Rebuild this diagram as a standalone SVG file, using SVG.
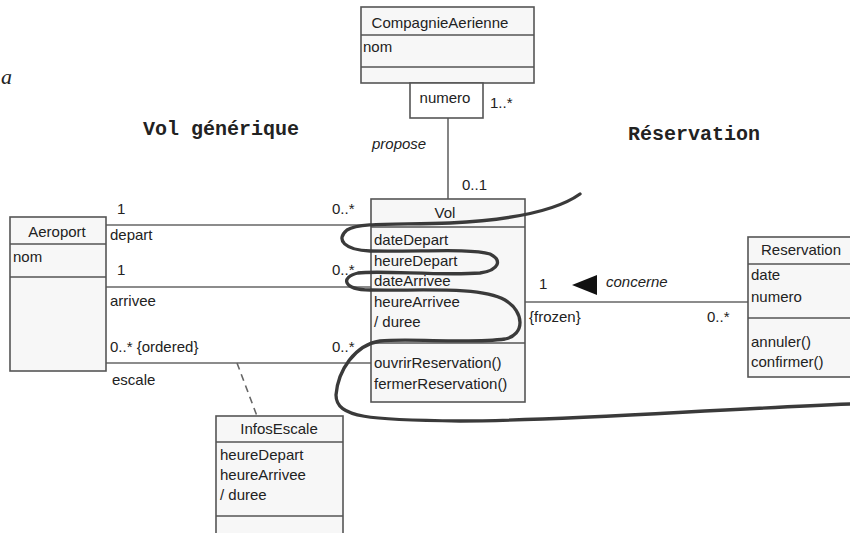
<svg xmlns="http://www.w3.org/2000/svg" width="850" height="533" viewBox="0 0 850 533">
<style>
.box{fill:#f7f7f7;stroke:#555;stroke-width:1.6}
.div{stroke:#555;stroke-width:1.6}
.ln{stroke:#666;stroke-width:1.6;fill:none}
text{font-family:"Liberation Sans",Arial,sans-serif;font-size:15px;fill:#222}
.c{text-anchor:middle}
.i{font-style:italic}
.t{font-family:"Liberation Mono","Courier New",monospace;font-weight:bold;font-size:20px}
</style>
<rect width="850" height="533" fill="#fff"/>
<text x="1" y="84" style="font-family:'Liberation Serif',serif;font-style:italic;font-size:22px">a</text>
<text class="t" x="143" y="135">Vol générique</text>
<text class="t" x="628" y="140">Réservation</text>

<g id="connectors">
<line class="ln" x1="448" y1="118" x2="448" y2="199"/>
<line class="ln" x1="106" y1="225" x2="371" y2="225"/>
<line class="ln" x1="106" y1="287" x2="371" y2="287"/>
<line class="ln" x1="106" y1="363" x2="371" y2="363"/>
<line class="ln" x1="237" y1="363" x2="257" y2="416" stroke-dasharray="7,5"/>
<line class="ln" x1="525" y1="302" x2="748" y2="302"/>
<polygon points="572,285 597,275 597,295" fill="#111"/>
<text x="372" y="149" class="i">propose</text>
<text x="490" y="108">1..*</text>
<text x="462" y="190">0..1</text>
<text x="117" y="214">1</text>
<text x="110" y="240">depart</text>
<text x="332" y="214">0..*</text>
<text x="117" y="275">1</text>
<text x="110" y="306">arrivee</text>
<text x="332" y="275">0..*</text>
<text x="110" y="352">0..* {ordered}</text>
<text x="112" y="385">escale</text>
<text x="332" y="352">0..*</text>
<text x="539" y="289">1</text>
<text x="606" y="287" class="i">concerne</text>
<text x="529" y="322">{frozen}</text>
<text x="707" y="322">0..*</text>
</g>

<g id="CompagnieAerienne">
<rect class="box" x="361" y="7" width="173" height="76"/>
<line class="div" x1="361" y1="35" x2="534" y2="35"/>
<line class="div" x1="361" y1="67" x2="534" y2="67"/>
<text x="440" y="28" class="c">CompagnieAerienne</text>
<text x="363" y="52">nom</text>
<rect class="box" x="410" y="83" width="73" height="35" style="fill:#fff"/>
<text x="445" y="103" class="c">numero</text>
</g>

<g id="Aeroport">
<rect class="box" x="10" y="217" width="96" height="154"/>
<line class="div" x1="10" y1="244" x2="106" y2="244"/>
<line class="div" x1="10" y1="277" x2="106" y2="277"/>
<text x="57" y="237" class="c">Aeroport</text>
<text x="13" y="262">nom</text>
</g>

<g id="Vol">
<rect class="box" x="371" y="199" width="154" height="203"/>
<line class="div" x1="371" y1="227" x2="525" y2="227"/>
<line class="div" x1="371" y1="343" x2="525" y2="343"/>
<text x="445" y="218" class="c">Vol</text>
<text x="374" y="245">dateDepart</text>
<text x="374" y="265.5">heureDepart</text>
<text x="374" y="286">dateArrivee</text>
<text x="374" y="307">heureArrivee</text>
<text x="374" y="327">/ duree</text>
<text x="374" y="368">ouvrirReservation()</text>
<text x="374" y="389">fermerReservation()</text>
</g>

<g id="Reservation">
<rect class="box" x="748" y="237" width="106" height="140"/>
<line class="div" x1="748" y1="264" x2="854" y2="264"/>
<line class="div" x1="748" y1="318" x2="854" y2="318"/>
<text x="801" y="255" class="c">Reservation</text>
<text x="751" y="280">date</text>
<text x="751" y="302">numero</text>
<text x="751" y="347">annuler()</text>
<text x="751" y="367">confirmer()</text>
</g>

<g id="InfosEscale">
<rect class="box" x="216" y="416" width="127" height="130"/>
<line class="div" x1="216" y1="442" x2="343" y2="442"/>
<line class="div" x1="216" y1="516" x2="343" y2="516"/>
<text x="279" y="434" class="c">InfosEscale</text>
<text x="220" y="460">heureDepart</text>
<text x="220" y="480">heureArrivee</text>
<text x="220" y="500">/ duree</text>
</g>

<path d="M580,194 C555,212 510,220 450,223 C400,225 360,222 347,230 C335,240 345,250 370,251 C420,252 470,248 490,254 C502,260 500,270 480,273 C440,276 380,270 358,273 C340,277 343,290 370,290 C420,291 480,286 505,300 C525,312 525,335 505,339 C470,344 410,338 380,341 C355,345 338,370 336,395 C336,418 370,420 460,421 C560,421 700,410 850,404" fill="none" stroke="#3a3a3a" stroke-width="3.3" stroke-linecap="round"/>
</svg>
